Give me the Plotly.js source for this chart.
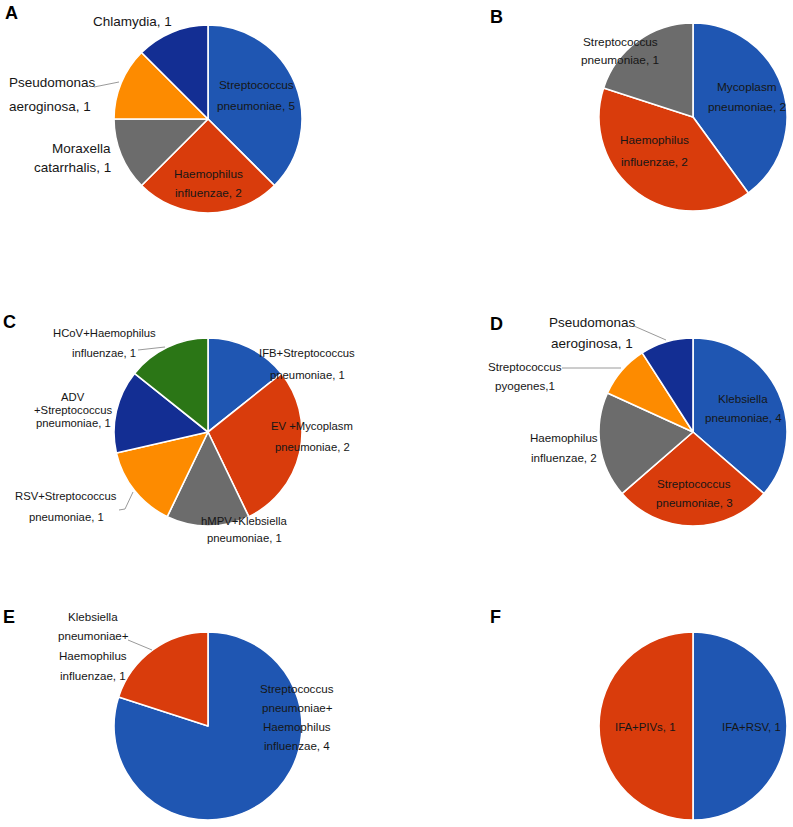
<!DOCTYPE html>
<html>
<head>
<meta charset="utf-8">
<script src="https://cdn.plot.ly/plotly-3.0.1.min.js"></script>
<style>
  html, body { margin: 0; padding: 0; background: #ffffff; }
  #chart { width: 793px; height: 827px; }
</style>
</head>
<body>
<div id="chart"></div>
<script>
// ---------------- DATA ----------------
// Panel A (slice sizes as drawn; printed counts in labels)
const namesA  = ["Streptococcus pneumoniae", "Haemophilus influenzae", "Moraxella catarrhalis", "Pseudomonas aeroginosa", "Chlamydia"];
const valuesA = [3, 2, 1, 1, 1];
const textA   = ["Streptococcus<br>pneumoniae, 5", "Haemophilus<br>influenzae, 2", "Moraxella<br>catarrhalis, 1", "Pseudomonas<br>aeroginosa, 1", "Chlamydia, 1"];

// Panel B
const namesB  = ["Mycoplasm pneumoniae", "Haemophilus influenzae", "Streptococcus pneumoniae"];
const valuesB = [2, 2, 1];
const textB   = ["Mycoplasm<br>pneumoniae, 2", "Haemophilus<br>influenzae, 2", "Streptococcus<br>pneumoniae, 1"];

// Panel C
const namesC  = ["IFB+Streptococcus pneumoniae", "EV +Mycoplasm pneumoniae", "hMPV+Klebsiella pneumoniae", "RSV+Streptococcus pneumoniae", "ADV +Streptococcus pneumoniae", "HCoV+Haemophilus influenzae"];
const valuesC = [1, 2, 1, 1, 1, 1];
const textC   = ["IFB+Streptococcus<br>pneumoniae, 1", "EV +Mycoplasm<br>pneumoniae, 2", "hMPV+Klebsiella<br>pneumoniae, 1", "RSV+Streptococcus<br>pneumoniae, 1", "ADV<br>+Streptococcus<br>pneumoniae, 1", "HCoV+Haemophilus<br>influenzae, 1"];

// Panel D
const namesD  = ["Klebsiella pneumoniae", "Streptococcus pneumoniae", "Haemophilus influenzae", "Streptococcus pyogenes", "Pseudomonas aeroginosa"];
const valuesD = [4, 3, 2, 1, 1];
const textD   = ["Klebsiella<br>pneumoniae, 4", "Streptococcus<br>pneumoniae, 3", "Haemophilus<br>influenzae, 2", "Streptococcus<br>pyogenes,1", "Pseudomonas<br>aeroginosa, 1"];

// Panel E
const namesE  = ["Streptococcus pneumoniae+Haemophilus influenzae", "Klebsiella pneumoniae+Haemophilus influenzae"];
const valuesE = [4, 1];
const textE   = ["Streptococcus<br>pneumoniae+<br>Haemophilus<br>influenzae, 4", "Klebsiella<br>pneumoniae+<br>Haemophilus<br>influenzae, 1"];

// Panel F
const namesF  = ["IFA+RSV", "IFA+PIVs"];
const valuesF = [1, 1];
const textF   = ["IFA+RSV, 1", "IFA+PIVs, 1"];

const panelLetters = ["A", "B", "C", "D", "E", "F"];

// ---------------- STYLE / LAYOUT ----------------
const W = 793, H = 827;
const BLUE = "#1f56b2", RED = "#d93c0c", GRAY = "#6c6c6c", ORANGE = "#fd8b00", NAVY = "#132e93", GREEN = "#2b7616";
const FONT = "Liberation Sans, Arial, Helvetica, sans-serif";
const TXT = "#161616";

const colorsA = [BLUE, RED, GRAY, ORANGE, NAVY];
const colorsB = [BLUE, RED, GRAY];
const colorsC = [BLUE, RED, GRAY, ORANGE, NAVY, GREEN];
const colorsD = [BLUE, RED, GRAY, ORANGE, NAVY];
const colorsE = [BLUE, RED];
const colorsF = [BLUE, RED];

const px = x => x / W;
const py = y => 1 - y / H;

// pie placement: centre (px) and radius (px)
const R = 94;
const pieGeom = [
  {cx: 208, cy: 119}, {cx: 693, cy: 117},
  {cx: 208, cy: 432}, {cx: 693, cy: 432},
  {cx: 208, cy: 726}, {cx: 693, cy: 726}
];

const panels = [
  {names: namesA, values: valuesA, text: textA, colors: colorsA},
  {names: namesB, values: valuesB, text: textB, colors: colorsB},
  {names: namesC, values: valuesC, text: textC, colors: colorsC},
  {names: namesD, values: valuesD, text: textD, colors: colorsD},
  {names: namesE, values: valuesE, text: textE, colors: colorsE},
  {names: namesF, values: valuesF, text: textF, colors: colorsF}
];

// label placement per slice: [x, firstLineY, lineHeight, fontSize, anchor]
const labelPos = [
  [[256, 85, 21, 11.8, "center"], [208, 174, 19, 11.8, "center"], [113, 149, 18, 13.5, "right"], [7, 83, 23, 13.5, "left"], [132, 21, 20, 13.5, "center"]],
  [[747, 87, 20, 11.8, "center"], [654, 140, 22, 11.8, "center"], [620, 42, 18, 11.8, "center"]],
  [[307, 353, 22, 11.3, "center"], [312, 426, 21, 11.3, "center"], [244, 521, 17, 11.3, "center"], [66, 496, 21, 11.3, "center"], [73, 397, 13, 11.3, "center"], [104, 333, 20, 11.3, "center"]],
  [[743, 398, 19, 11.6, "center"], [694, 483, 19, 11.6, "center"], [564, 437, 20, 11.6, "center"], [525, 366, 19, 11.6, "center"], [592, 322, 21, 13.5, "center"]],
  [[297, 688, 19.3, 11.6, "center"], [93, 616, 19.7, 11.6, "center"]],
  [[751, 727, 18, 11.4, "center"], [645, 727, 18, 11.4, "center"]]
];

const letterPos = [[3, 13], [488, 17], [1, 322], [488, 324], [1, 617], [488, 617]];

// leader lines (px)
const leaders = [
  "M94,87 L119,82",
  "M138,350 L165,347",
  "M119,510 L125,509 L133,492",
  "M634,326 L666,340",
  "M562,368 L621,368",
  "M128,640 L152,650"
];

// ---------------- BUILD ----------------
const traces = [];
const annotations = [];

panels.forEach((p, k) => {
  const g = pieGeom[k];
  traces.push({
    type: "pie",
    labels: p.names,
    values: p.values,
    marker: {colors: p.colors, line: {color: "#ffffff", width: 1.6}},
    sort: false,
    direction: "clockwise",
    rotation: 0,
    textinfo: "none",
    hoverinfo: "label+value",
    showlegend: false,
    domain: {x: [px(g.cx - R), px(g.cx + R)], y: [py(g.cy + R), py(g.cy - R)]}
  });

  p.text.forEach((t, i) => {
    const [x, y0, lh, size, anchor] = labelPos[k][i];
    t.split("<br>").forEach((line, j) => {
      annotations.push({
        xref: "paper", yref: "paper",
        x: px(x), y: py(y0 + j * lh),
        xanchor: anchor, yanchor: "middle",
        text: line, showarrow: false,
        font: {family: FONT, size: size, color: TXT}
      });
    });
  });

  annotations.push({
    xref: "paper", yref: "paper",
    x: px(letterPos[k][0]), y: py(letterPos[k][1]),
    xanchor: "left", yanchor: "middle",
    text: "<b>" + panelLetters[k] + "</b>", showarrow: false,
    font: {family: FONT, size: 18, color: "#000000"}
  });
});

const shapes = leaders.map(d => ({
  type: "path",
  xref: "paper", yref: "paper",
  path: d.replace(/(\d+(?:\.\d+)?),(\d+(?:\.\d+)?)/g, (m, a, b) => px(+a) + "," + py(+b)),
  line: {color: "#9a9a9a", width: 1}
}));

const layout = {
  width: W, height: H,
  margin: {l: 0, r: 0, t: 0, b: 0},
  paper_bgcolor: "#ffffff",
  plot_bgcolor: "#ffffff",
  font: {family: FONT, color: TXT},
  annotations: annotations,
  shapes: shapes
};

Plotly.newPlot("chart", traces, layout, {displayModeBar: false, staticPlot: false});
</script>
</body>
</html>
